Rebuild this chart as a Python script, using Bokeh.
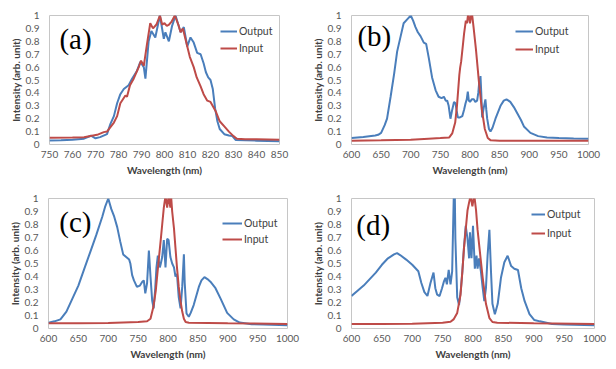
from bokeh.plotting import figure
from bokeh.models import Range1d, FixedTicker, CustomJSTickFormatter, Legend, LegendItem, Label
from bokeh.layouts import column, row
from bokeh.embed import file_html
from bokeh.resources import INLINE

BLUE = "#4a7ebb"
RED = "#be4b48"

Y_TICKS = [0, 0.1, 0.2, 0.3, 0.4, 0.5, 0.6, 0.7, 0.8, 0.9, 1]
A_X_TICKS = [750, 760, 770, 780, 790, 800, 810, 820, 830, 840, 850]
BCD_X_TICKS = [600, 650, 700, 750, 800, 850, 900, 950, 1000]
SERIES_NAMES = ["Output", "Input"]
PANEL_TAGS = ["(a)", "(b)", "(c)", "(d)"]

# ---- panel (a) ----
A_WL_OUT = [750, 755, 760, 765, 768, 770, 772, 775, 776.5, 778, 779.4, 780.8, 782.3, 784.4, 785.9,
            788, 789.5, 791, 791.7, 793.1, 794.3, 796, 798, 799.7, 800.4, 801.9, 803.3, 804.8, 807,
            808.4, 809.9, 811.3, 812.7, 814.2, 815.7, 817, 818, 819, 820, 821, 822, 823, 824, 826,
            828, 829.5, 831, 835, 840, 845, 850]
A_OUT = [0.031, 0.032, 0.036, 0.045, 0.068, 0.048, 0.057, 0.08, 0.16, 0.22, 0.32, 0.39, 0.43, 0.46, 0.51,
         0.57, 0.64, 0.6, 0.51, 0.8, 0.88, 0.83, 1.0, 0.82, 0.87, 0.8, 0.92, 1.0, 0.87,
         0.91, 0.76, 0.83, 0.79, 0.71, 0.7, 0.63, 0.56, 0.52, 0.5, 0.43, 0.28, 0.18, 0.12, 0.08,
         0.07, 0.065, 0.035, 0.032, 0.03, 0.028, 0.026]
A_WL_IN = [750, 760, 765, 770.7, 773.6, 775, 778, 779.4, 780.8, 783, 783.7, 785, 786.6, 788.8, 789.8,
           791, 792.4, 793.8, 795, 796.5, 798, 799, 800, 801, 802, 803, 804.5, 806, 807, 808, 809.9,
           811, 812.7, 814, 815.7, 817, 818.6, 820, 822.2, 824, 826, 828, 830, 831.5, 835, 840, 850]
A_IN = [0.052, 0.054, 0.057, 0.075, 0.096, 0.1, 0.17, 0.22, 0.32, 0.38, 0.37, 0.46, 0.51, 0.6, 0.65,
        0.61, 0.78, 0.94, 0.9, 0.93, 1.0, 0.93, 0.94, 0.92, 0.93, 0.95, 1.0, 0.93, 0.87, 0.9, 0.76,
        0.68, 0.6, 0.52, 0.45, 0.39, 0.34, 0.33, 0.26, 0.18, 0.14, 0.1, 0.065, 0.045, 0.04, 0.04, 0.036]

# ---- panel (b) ----
B_WL_OUT = [600, 620, 640, 645, 650, 656, 660, 666, 672, 677, 683, 688, 694, 700, 704, 708, 712, 716.5,
            722, 726, 730.5, 736, 742, 747, 752, 756, 759, 761.5, 764, 767, 770, 773, 775.5, 777.5,
            779.5, 783, 787, 790, 792.5, 794.5, 796.3, 798, 800, 803, 806.4, 809, 812, 814, 815.5,
            817.7, 819, 820.5, 823, 826, 827.5, 829, 832, 834.6, 838, 843, 851.5, 857, 861.6, 865,
            868, 874, 880, 886, 891, 902, 915, 930, 950, 975, 1000]
B_OUT = [0.05, 0.058, 0.07, 0.075, 0.09, 0.15, 0.2, 0.37, 0.55, 0.72, 0.84, 0.94, 0.97, 1.0, 0.96, 0.91,
         0.87, 0.84, 0.79, 0.78, 0.67, 0.52, 0.42, 0.37, 0.36, 0.37, 0.34, 0.34, 0.3, 0.2, 0.27, 0.33,
         0.32, 0.26, 0.21, 0.21, 0.22, 0.27, 0.32, 0.35, 0.41, 0.34, 0.33, 0.35, 0.35, 0.33, 0.34, 0.4,
         0.48, 0.53, 0.4, 0.21, 0.28, 0.35, 0.27, 0.2, 0.12, 0.1, 0.13, 0.2, 0.3, 0.34, 0.35, 0.34,
         0.33, 0.29, 0.24, 0.19, 0.14, 0.09, 0.065, 0.055, 0.05, 0.047, 0.045]
B_WL_IN = [600, 650, 700, 730, 750, 765, 770, 775, 778, 780, 782, 783.5, 785, 788, 790, 793, 795, 797,
           800, 803, 806, 810, 815, 820, 825, 830, 835, 850, 900, 1000]
B_IN = [0.03, 0.032, 0.037, 0.045, 0.05, 0.055, 0.086, 0.17, 0.3, 0.42, 0.54, 0.6, 0.64, 0.77, 0.86,
        0.96, 0.94, 1.02, 0.94, 1.03, 0.91, 0.74, 0.49, 0.27, 0.12, 0.05, 0.032, 0.03, 0.03, 0.03]

# ---- panel (c) ----
C_WL_OUT = [600, 610, 620, 630, 640, 650, 660, 670, 680, 690, 695, 700, 705, 710, 715, 720, 725, 730,
            735, 737, 740, 743, 748, 753, 757, 759.5, 762, 765, 768, 770.7, 773.5, 776, 778.5, 780.7,
            783, 786.3, 788, 790.3, 793, 795.8, 798.6, 801, 804, 807, 810, 812.5, 815, 818, 821, 823.8,
            826.6, 828, 831, 834.8, 838, 843, 851.6, 856, 861, 866, 871, 879.5, 888, 899, 910, 920,
            940, 960, 1000]
C_OUT = [0.045, 0.055, 0.07, 0.13, 0.23, 0.33, 0.46, 0.59, 0.72, 0.86, 0.94, 1.0, 0.92, 0.86, 0.78,
         0.67, 0.57, 0.55, 0.53, 0.5, 0.41, 0.37, 0.32, 0.33, 0.36, 0.37, 0.27, 0.35, 0.6, 0.4, 0.215,
         0.155, 0.3, 0.47, 0.56, 0.47, 0.5, 0.55, 0.68, 0.47, 0.69, 0.68, 0.55, 0.5, 0.47, 0.4, 0.42,
         0.24, 0.155, 0.32, 0.57, 0.35, 0.115, 0.09, 0.12, 0.18, 0.32, 0.37, 0.395, 0.38, 0.36, 0.31,
         0.23, 0.12, 0.07, 0.046, 0.033, 0.03, 0.025]
C_WL_IN = [600, 650, 700, 750, 765, 770.7, 775.5, 779.5, 782.2, 785, 787.8, 790.3, 793, 795.8, 798.6,
           801, 804, 805, 807, 810, 812.5, 815, 818, 821, 823.8, 826.6, 829.5, 835, 900, 1000]
C_IN = [0.04, 0.04, 0.042, 0.05, 0.056, 0.075, 0.165, 0.29, 0.42, 0.55, 0.68, 0.8, 0.93, 1.02, 0.93,
        1.02, 0.93, 1.03, 0.9, 0.77, 0.62, 0.47, 0.32, 0.21, 0.13, 0.075, 0.05, 0.045, 0.04, 0.035]

# ---- panel (d) ----
D_WL_OUT = [600, 610, 620, 630, 640, 650, 660, 670, 675, 680, 690, 700, 710, 715, 720, 725, 730, 735,
            738, 741, 745, 749, 752, 754.7, 757, 760, 763, 765.7, 768.5, 770, 771, 774, 777, 780, 782.5,
            785, 788, 791, 793.6, 795, 797.5, 800, 803, 805.8, 807.5, 810, 813, 816, 818.6, 821.3, 824,
            827, 829.6, 832, 836, 840.7, 846, 851.6, 857, 862.8, 868, 874, 879.4, 885, 893, 901, 910,
            930, 950, 1000]
D_OUT = [0.25, 0.29, 0.33, 0.38, 0.43, 0.49, 0.54, 0.57, 0.58, 0.565, 0.53, 0.49, 0.44, 0.35, 0.28, 0.25,
         0.35, 0.43, 0.31, 0.26, 0.25, 0.31, 0.36, 0.39, 0.34, 0.45, 0.34, 0.44, 1.05, 1.05, 0.69, 0.24,
         0.18, 0.3, 0.44, 0.61, 0.79, 0.69, 0.54, 0.74, 0.54, 0.79, 0.46, 0.56, 0.46, 0.54, 0.44, 0.31,
         0.21, 0.31, 0.56, 0.76, 0.44, 0.19, 0.11, 0.19, 0.39, 0.51, 0.56, 0.48, 0.46, 0.45, 0.31, 0.21,
         0.11, 0.065, 0.055, 0.035, 0.03, 0.025]
D_WL_IN = [600, 650, 700, 750, 763, 768, 774, 779.5, 782.5, 785, 788, 791, 793.6, 796, 799, 802, 805,
           807.5, 812, 816, 821.3, 827, 832, 840, 900, 1000]
D_IN = [0.035, 0.035, 0.037, 0.045, 0.052, 0.07, 0.12, 0.26, 0.44, 0.61, 0.76, 0.91, 0.97, 1.02, 0.94,
        1.03, 0.91, 0.76, 0.56, 0.39, 0.19, 0.08, 0.05, 0.045, 0.04, 0.035]

TICK_FONT = "Lato"
TICK_COLOR = "#595959"
LABEL_COLOR = "#404040"
ITEM_H = 20


def make_panel(tag, wl_out, out, wl_in, inp, xr, xticks, w, h, bl, br, bt, bb,
               leg_x, leg_rows, glyph_w, tag_x, tag_y):
    p = figure(width=w, height=h, x_range=Range1d(*xr), y_range=Range1d(0, 1),
               output_backend="svg", toolbar_location=None,
               min_border_left=bl, min_border_right=br, min_border_top=bt, min_border_bottom=bb)
    p.outline_line_color = "#c6c6c6"
    p.outline_line_width = 1
    p.background_fill_color = "white"
    p.border_fill_color = "white"
    p.xgrid.visible = False
    p.ygrid.visible = False

    r_out = p.line(wl_out, out, line_color=BLUE, line_width=2)
    r_in = p.line(wl_in, inp, line_color=RED, line_width=2)

    for ax in (p.xaxis[0], p.yaxis[0]):
        ax.axis_line_color = None
        ax.major_tick_line_color = None
        ax.minor_tick_line_color = None
        ax.major_tick_out = 0
        ax.major_tick_in = 0
        ax.minor_tick_out = 0
        ax.minor_tick_in = 0
        ax.major_label_text_font = TICK_FONT
        ax.major_label_text_font_size = "10px"
        ax.major_label_text_color = TICK_COLOR
        ax.axis_label_text_font = TICK_FONT
        ax.axis_label_text_font_size = "10px"
        ax.axis_label_text_font_style = "bold"
        ax.axis_label_text_color = LABEL_COLOR

    p.xaxis[0].ticker = FixedTicker(ticks=xticks)
    p.xaxis[0].axis_label = "Wavelength (nm)"
    p.xaxis[0].major_label_standoff = 6
    p.xaxis[0].axis_label_standoff = 3

    p.yaxis[0].ticker = FixedTicker(ticks=Y_TICKS)
    p.yaxis[0].formatter = CustomJSTickFormatter(code="return (Math.round(tick*10)/10).toString();")
    p.yaxis[0].axis_label = "Intensity (arb. unit)"
    p.yaxis[0].major_label_standoff = 10
    p.yaxis[0].axis_label_standoff = 1

    frame_h = h - bt - bb
    for name, rend, row_center in zip(SERIES_NAMES, (r_out, r_in), leg_rows):
        leg = Legend(items=[LegendItem(label=name, renderers=[rend])],
                     location=(leg_x, frame_h - row_center - ITEM_H / 2),
                     orientation="vertical", padding=0, margin=0, spacing=0,
                     glyph_width=glyph_w, glyph_height=ITEM_H, label_height=ITEM_H,
                     label_standoff=2, border_line_color=None, background_fill_alpha=0,
                     label_text_font=TICK_FONT, label_text_font_size="10.5px",
                     label_text_color=LABEL_COLOR)
        p.add_layout(leg)

    p.add_layout(Label(x=tag_x, y=tag_y, text=tag, text_font="Liberation Serif",
                       text_font_size="29px", text_baseline="middle", text_align="left",
                       text_color="black"))
    return p


pa = make_panel(PANEL_TAGS[0], A_WL_OUT, A_OUT, A_WL_IN, A_IN, (750, 850), A_X_TICKS,
                308, 185, 49, 29, 15, 41, 171, (16, 33), 17, 754.3, 0.82)
pb = make_panel(PANEL_TAGS[1], B_WL_OUT, B_OUT, B_WL_IN, B_IN, (600, 1000), BCD_X_TICKS,
                308, 185, 43, 28, 12, 38, 164, (22, 40), 18, 610, 0.84)
pc = make_panel(PANEL_TAGS[2], C_WL_OUT, C_OUT, C_WL_IN, C_IN, (600, 1000), BCD_X_TICKS,
                308, 184, 48, 21, 13, 41, 174, (25, 41), 20, 618, 0.82)
pd = make_panel(PANEL_TAGS[3], D_WL_OUT, D_OUT, D_WL_IN, D_IN, (600, 1000), BCD_X_TICKS,
                308, 184, 43, 22, 13, 37, 180, (20, 39), 14, 608, 0.80)

layout = column(row(pa, pb), row(pc, pd))
open("out.html", "w").write(file_html(layout, INLINE))
